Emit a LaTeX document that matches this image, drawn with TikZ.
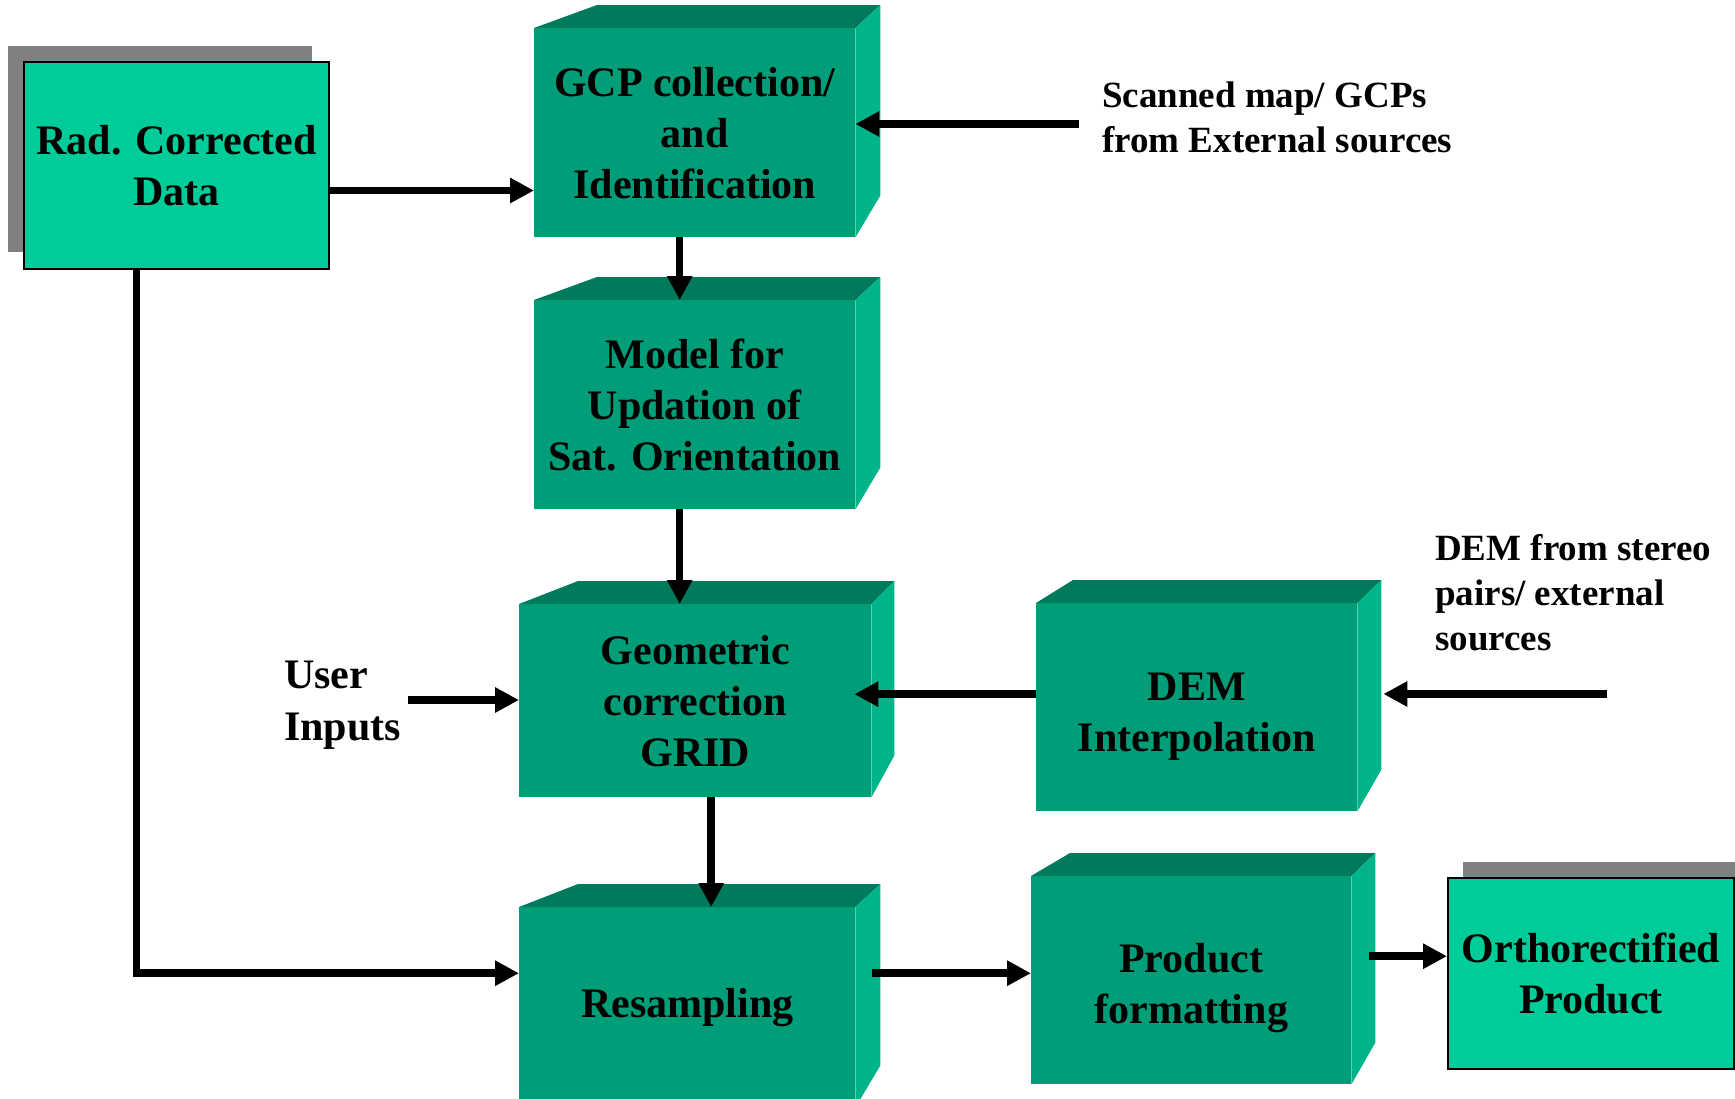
\documentclass[tikz,border=0pt]{standalone}
\usepackage{fontspec}
\setmainfont{Liberation Serif}
\usetikzlibrary{arrows.meta}
\definecolor{FrontGreen}{RGB}{0,158,120}
\definecolor{TopGreen}{RGB}{0,122,92}
\definecolor{SideGreen}{RGB}{0,180,138}
\definecolor{DataGreen}{RGB}{0,204,153}
\definecolor{ShadowGrey}{RGB}{128,128,128}
\tikzstyle{StepBox}=[rectangle, fill=FrontGreen, inner sep=0pt, anchor=north west, align=center, font=\bfseries\fontsize{42}{51}\selectfont]
\tikzstyle{DataBox}=[StepBox, fill=DataGreen, draw=black, line width=2pt]
\tikzstyle{SideText}=[anchor=west, align=left, inner sep=0pt, font=\bfseries\fontsize{37}{45}\selectfont]
\tikzstyle{Flow}=[->, line width=7.5pt]
\tikzset{>={Triangle[length=24pt,width=24pt]}}
% top and side faces of a block: node, left offset, right offset
\newcommand{\blockfaces}[3]{%
  \fill[TopGreen] (#1.north west) -- ++(#2,-23) -- ([shift={(#3,-23)}]#1.north east) -- (#1.north east) -- cycle;
  \fill[SideGreen] (#1.north east) -- ++(#3,-23) -- ([shift={(#3,-42)}]#1.south east) -- (#1.south east) -- cycle;
}

\begin{document}
\begin{tikzpicture}[x=1pt,y=-1pt]
\useasboundingbox (0,0) rectangle (1735,1098);
\clip (0,0) rectangle (1735,1098);

\fill[ShadowGrey] (8,46) rectangle (312,252);
\fill[ShadowGrey] (1463,862) rectangle (1745,1000);

\node[DataBox, minimum width=305, minimum height=207](Rad) at (23,61) {Rad. Corrected\\Data};
\node[StepBox, minimum width=321, minimum height=209](GCP) at (534,28) {GCP collection/\\and\\Identification};
\node[StepBox, minimum width=321, minimum height=209](Model) at (534,300) {Model for\\Updation of\\Sat. Orientation};
\node[StepBox, minimum width=352, minimum height=193](Geom) at (519,604) {Geometric\\correction\\GRID};
\node[StepBox, minimum width=321, minimum height=208](DEM) at (1036,603) {\rule{0pt}{47pt}DEM\\Interpolation};
\node[StepBox, minimum width=336, minimum height=200](Resamp) at (519,907) {Resampling};
\node[StepBox, minimum width=320, minimum height=208](Format) at (1031,876) {\rule{0pt}{45pt}Product\\formatting};
\node[DataBox, minimum width=286, minimum height=191](Ortho) at (1447,877) {Orthorectified\\Product};

\blockfaces{GCP}{63}{25}
\blockfaces{Model}{63}{25}
\blockfaces{Geom}{59}{23}
\blockfaces{DEM}{37}{24}
\blockfaces{Resamp}{59}{25}
\blockfaces{Format}{39}{24}

\node[SideText](Scan) at (1102,117) {Scanned map/ GCPs\\from External sources};
\node[SideText, font=\bfseries\fontsize{42}{52}\selectfont](User) at (284,705) {User\\Inputs};
\node[SideText](Stereo) at (1435,593) {DEM from stereo\\pairs/ external\\sources};

\coordinate (RadOut) at ([yshift=-25pt]Rad.east);
\coordinate (ScanIn) at (1079,124);
\coordinate (GcpOut) at ([xshift=-15pt]GCP.south);
\coordinate (ModelOut) at ([xshift=-15pt]Model.south);
\coordinate (UserIn) at (408,700);
\coordinate (DemOut) at ([yshift=13pt]DEM.west);
\coordinate (StereoIn) at (1607,694);
\coordinate (GeomOut) at ([xshift=16pt]Geom.south);
\coordinate (ResIn) at ([yshift=34pt]Resamp.west);
\coordinate (ResOut) at ([yshift=34pt]Resamp.east);
\coordinate (FormOut) at ([yshift=24pt]Format.east);

\draw[Flow](RadOut) -- (RadOut -| GCP.west);
\draw[Flow](ScanIn) -- (ScanIn -| GCP.east);
\draw[Flow](GcpOut) -- (GcpOut |- Model.north);
\draw[Flow](ModelOut) -- (ModelOut |- Geom.north);
\draw[Flow](UserIn) -- (UserIn -| Geom.west);
\draw[Flow, shorten >=-17pt](DemOut) -- (DemOut -| Geom.east);
\draw[Flow, shorten >=26pt](StereoIn) -- (StereoIn -| DEM.east);
\draw[Flow](GeomOut) -- (GeomOut |- Resamp.north);
\draw[Flow]([xshift=-40pt]Rad.south) |- (ResIn);
\draw[Flow, shorten <=17pt](ResOut) -- (ResOut -| Format.west);
\draw[Flow, shorten <=18pt](FormOut) -- (FormOut -| Ortho.west);
\end{tikzpicture}
\end{document}
